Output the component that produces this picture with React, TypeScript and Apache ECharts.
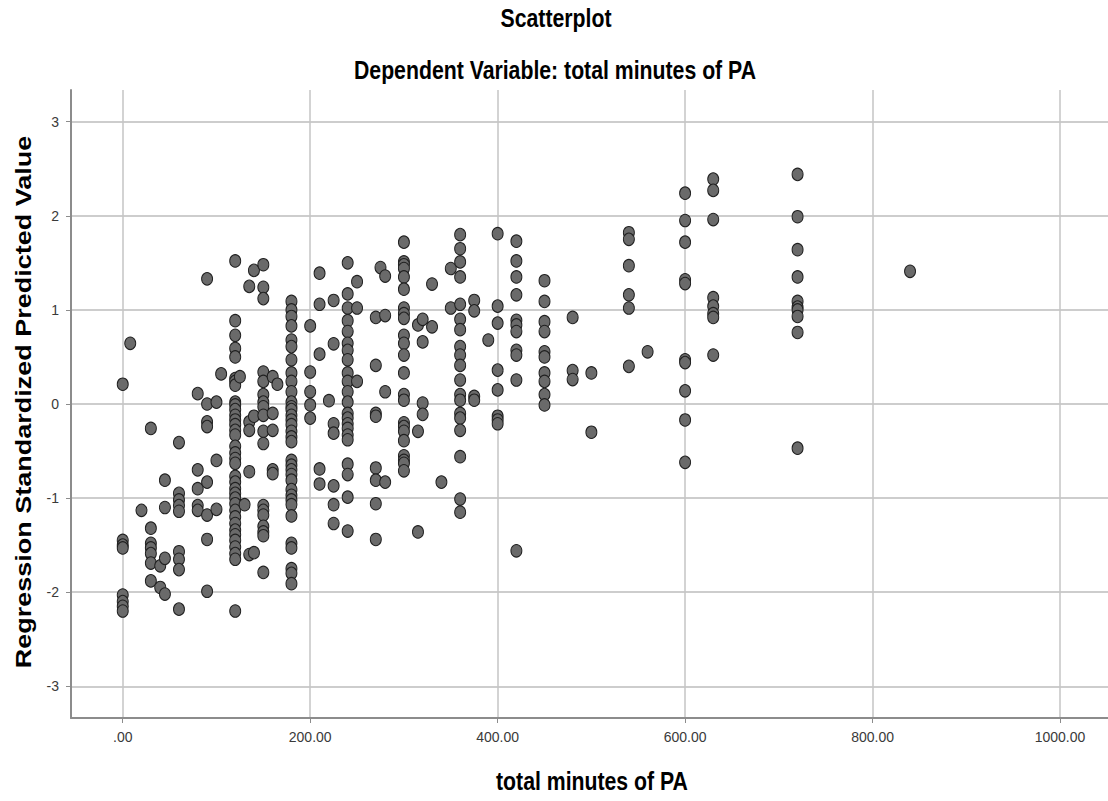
import React, { useEffect, useRef } from "react";
import * as echarts from "echarts";

// total minutes of PA (x) values present in the data
const minutes = [
  0, 8, 20, 30, 40, 45, 60, 80, 90, 100, 105, 120, 125, 130, 135, 140, 150, 160, 165,
  180, 200, 210, 220, 225, 240, 250, 270, 275, 280, 300, 315, 320, 330, 340, 350, 360,
  375, 390, 400, 420, 450, 480, 500, 540, 560, 600, 630, 720, 840,
];

// Regression standardized predicted values, one list per minutes value above
const predicted: number[][] = [
  [0.21, -1.45, -1.5, -1.53, -2.03, -2.1, -2.15, -2.2],
  [0.645],
  [-1.13],
  [-0.26, -1.32, -1.48, -1.53, -1.59, -1.69, -1.88],
  [-1.72, -1.95],
  [-0.81, -1.1, -1.64, -2.02],
  [-0.41, -0.95, -1.02, -1.08, -1.14, -1.57, -1.65, -1.76, -2.18],
  [0.11, -0.7, -0.9, -1.08, -1.13],
  [1.33, 0, -0.19, -0.24, -0.83, -1.18, -1.44, -1.99],
  [0.02, -0.6, -1.12],
  [0.32],
  [1.52, 0.885, 0.73, 0.59, 0.5, 0.27, 0.24, 0.2, 0.02, -0.01, -0.06, -0.12, -0.17, -0.22,
    -0.28, -0.33, -0.45, -0.52, -0.58, -0.63, -0.77, -0.83, -0.9, -0.95, -1.0, -1.06, -1.13,
    -1.2, -1.27, -1.34, -1.39, -1.45, -1.52, -1.59, -1.65, -2.2],
  [0.29],
  [-1.07],
  [1.25, -0.19, -0.28, -0.72, -1.6],
  [1.42, -0.13, -1.58],
  [1.48, 1.24, 1.12, 0.34, 0.24, 0.1, 0.02, -0.03, -0.12, -0.29, -0.42, -1.08, -1.13, -1.18,
    -1.3, -1.36, -1.4, -1.79],
  [0.29, -0.1, -0.28, -0.7, -0.74],
  [0.21],
  [1.09, 1.0, 0.93, 0.83, 0.68, 0.61, 0.47, 0.33, 0.24, 0.13, 0.02, -0.03, -0.06, -0.12, -0.17,
    -0.22, -0.29, -0.35, -0.4, -0.6, -0.65, -0.7, -0.75, -0.81, -0.91, -0.97, -1.02, -1.07,
    -1.19, -1.48, -1.53, -1.75, -1.8, -1.91],
  [0.83, 0.34, 0.13, -0.01, -0.15],
  [1.39, 1.06, 0.53, -0.69, -0.85],
  [0.035],
  [1.1, 0.64, -0.21, -0.31, -0.87, -1.07, -1.27],
  [1.5, 1.17, 1.02, 0.885, 0.77, 0.645, 0.57, 0.47, 0.33, 0.24, 0.13, 0.02, -0.1, -0.15, -0.21,
    -0.26, -0.33, -0.38, -0.64, -0.75, -0.99, -1.35],
  [1.3, 1.02, 0.24],
  [0.92, 0.41, -0.1, -0.13, -0.68, -0.81, -1.06, -1.44],
  [1.45],
  [1.36, 0.94, 0.13, -0.83],
  [1.72, 1.51, 1.48, 1.44, 1.35, 1.22, 1.02, 0.96, 0.91, 0.73, 0.645, 0.52, 0.33, 0.1, 0.04,
    -0.2, -0.24, -0.29, -0.39, -0.55, -0.6, -0.63, -0.71],
  [0.84, -0.29, -1.36],
  [0.9, 0.66, 0.01, -0.11],
  [1.275, 0.82],
  [-0.83],
  [1.44, 1.02],
  [1.8, 1.65, 1.51, 1.35, 1.06, 0.9, 0.79, 0.61, 0.52, 0.41, 0.255, 0.1, 0.04, -0.1, -0.15,
    -0.28, -0.56, -1.01, -1.15],
  [1.1, 0.99, 0.08, 0.04],
  [0.68],
  [1.81, 1.04, 0.86, 0.36, 0.15, -0.13, -0.17, -0.21],
  [1.73, 1.52, 1.35, 1.16, 0.89, 0.84, 0.77, 0.57, 0.52, 0.255, -1.56],
  [1.31, 1.09, 0.875, 0.77, 0.555, 0.5, 0.33, 0.24, 0.1, -0.01],
  [0.92, 0.355, 0.26],
  [0.33, -0.3],
  [1.82, 1.75, 1.47, 1.16, 1.02, 0.4],
  [0.555],
  [2.24, 1.95, 1.72, 1.32, 1.28, 0.47, 0.44, 0.14, -0.17, -0.62],
  [2.39, 2.27, 1.96, 1.13, 1.04, 0.96, 0.92, 0.52],
  [2.44, 1.99, 1.64, 1.35, 1.09, 1.03, 1.0, 0.93, 0.76, -0.47],
  [1.41],
];

const titleText = "Scatterplot";
const subtitleText = "Dependent Variable: total minutes of PA";
const xAxisTitle = "total minutes of PA";
const yAxisTitle = "Regression Standardized Predicted Value";

const FONT = "'Liberation Sans', Arial, Helvetica, sans-serif";

export default function App() {
  const ref = useRef<HTMLDivElement>(null);

  useEffect(() => {
    document.body.style.margin = "0";
    const chart = echarts.init(ref.current!, null, { renderer: "svg" });
    const data: number[][] = [];
    minutes.forEach((m, i) => {
      predicted[i].forEach((v) => data.push([m, v]));
    });

    chart.setOption({
      animation: false,
      backgroundColor: "#ffffff",
      grid: { left: 71, top: 90, right: 0, bottom: 83, containLabel: false },
      xAxis: {
        type: "value",
        min: -55.2,
        max: 1051.2,
        minInterval: 200,
        maxInterval: 200,
        axisLine: { show: true, onZero: false, lineStyle: { color: "#8c8c8c", width: 2 } },
        axisTick: { show: true, length: 5, lineStyle: { color: "#8c8c8c", width: 1 } },
        axisLabel: {
          margin: 12,
          fontFamily: FONT,
          fontSize: 14,
          color: "#3a3a3a",
          showMinLabel: false,
          showMaxLabel: false,
          formatter: (v: number) => {
            if (Math.abs(v - Math.round(v / 200) * 200) > 1e-6) return "";
            return v === 0 ? ".00" : v.toFixed(2);
          },
        },
        splitLine: {
          show: true,
          showMinLine: false,
          showMaxLine: false,
          lineStyle: { color: "#c4c4c4", width: 1.5 },
        },
      },
      yAxis: {
        type: "value",
        min: -3.337,
        max: 3.337,
        minInterval: 1,
        maxInterval: 1,
        axisLine: { show: true, onZero: false, lineStyle: { color: "#8c8c8c", width: 2 } },
        axisTick: { show: true, length: 5, lineStyle: { color: "#8c8c8c", width: 1 } },
        axisLabel: {
          margin: 12,
          fontFamily: FONT,
          fontSize: 14,
          color: "#3a3a3a",
          showMinLabel: false,
          showMaxLabel: false,
          formatter: (v: number) => {
            if (Math.abs(v - Math.round(v)) > 1e-6) return "";
            return String(Math.round(v));
          },
        },
        splitLine: {
          show: true,
          showMinLine: false,
          showMaxLine: false,
          lineStyle: { color: "#cdcdcd", width: 2 },
        },
      },
      series: [
        {
          type: "scatter",
          data,
          symbol: "circle",
          symbolSize: [11, 12.5],
          itemStyle: { color: "#6a6a6a", borderColor: "#202020", borderWidth: 1, opacity: 1 },
          emphasis: { disabled: true },
        },
      ],
      graphic: [
        {
          type: "text",
          x: 556,
          y: 18,
          scaleX: 0.85,
          style: {
            text: titleText,
            font: `bold 25px ${FONT}`,
            fill: "#000",
            textAlign: "center",
            textVerticalAlign: "middle",
          },
        },
        {
          type: "text",
          x: 555,
          y: 70,
          scaleX: 0.85,
          style: {
            text: subtitleText,
            font: `bold 25px ${FONT}`,
            fill: "#000",
            textAlign: "center",
            textVerticalAlign: "middle",
          },
        },
        {
          type: "text",
          x: 592,
          y: 781,
          scaleX: 0.85,
          style: {
            text: xAxisTitle,
            font: `bold 25px ${FONT}`,
            fill: "#000",
            textAlign: "center",
            textVerticalAlign: "middle",
          },
        },
        {
          type: "text",
          x: 23,
          y: 402,
          rotation: Math.PI / 2,
          scaleY: 0.85,
          style: {
            text: yAxisTitle,
            font: `bold 27px ${FONT}`,
            fill: "#000",
            textAlign: "center",
            textVerticalAlign: "middle",
          },
        },
      ],
    });

    return () => chart.dispose();
  }, []);

  return <div ref={ref} style={{ width: 1108, height: 801 }} />;
}
